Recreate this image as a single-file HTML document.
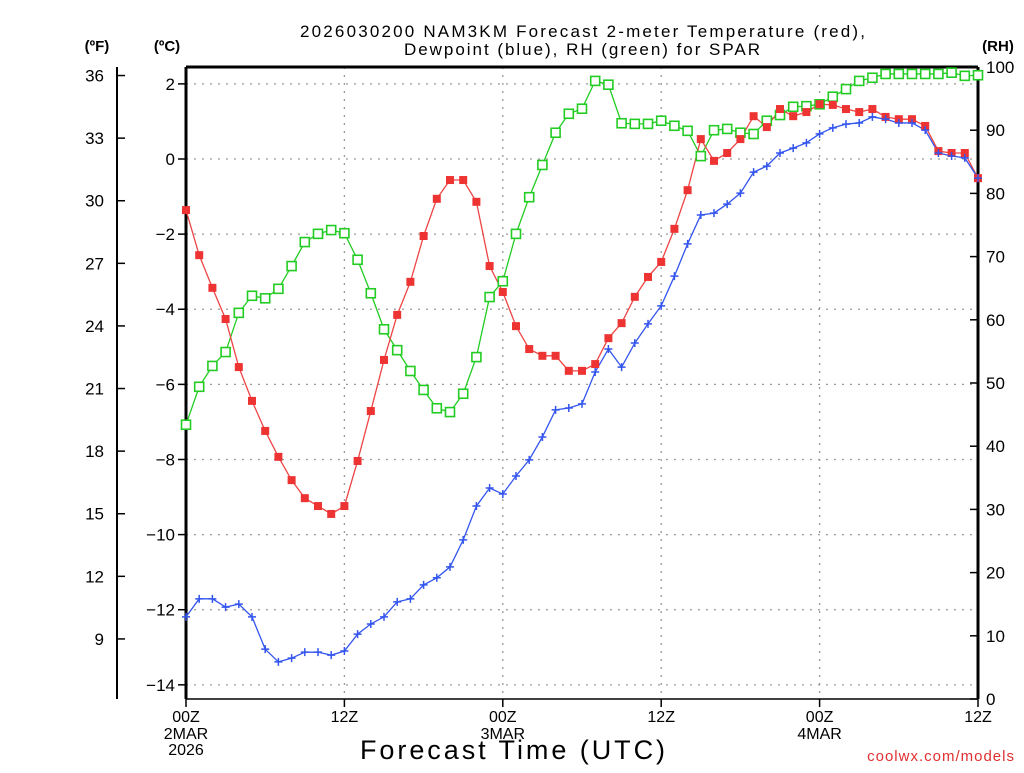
<!DOCTYPE html>
<html><head><meta charset="utf-8"><style>
body{margin:0;background:#fff;}
svg text{font-family:"Liberation Sans",sans-serif;fill:#000;}
</style></head><body>
<svg id="chart" width="1024" height="768" viewBox="0 0 1024 768" xmlns="http://www.w3.org/2000/svg">
<rect width="1024" height="768" fill="#fff"/>
<text x="300" y="37" font-size="17" textLength="565" lengthAdjust="spacing">2026030200 NAM3KM Forecast 2-meter Temperature (red),</text>
<text x="404" y="55" font-size="17" textLength="356" lengthAdjust="spacing">Dewpoint (blue), RH (green) for SPAR</text>
<text x="97" y="51" font-size="15" font-weight="bold" text-anchor="middle">(ºF)</text>
<text x="167" y="51" font-size="15" font-weight="bold" text-anchor="middle">(ºC)</text>
<text x="998" y="51" font-size="15" font-weight="bold" text-anchor="middle">(RH)</text>
<text x="360" y="759" font-size="27" textLength="305" lengthAdjust="spacing">Forecast Time (UTC)</text>
<text x="1015" y="761" font-size="15" text-anchor="end" style="fill:#e03030" letter-spacing="1">coolwx.com/models</text>
<g id="grid"></g><g id="axes"></g><g id="series"></g>
</svg>
<script>
const hours = Array.from({length:61},(_,i)=>i);
const tempC = [-1.36,-2.56,-3.43,-4.26,-5.54,-6.44,-7.24,-7.93,-8.55,-9.03,-9.24,-9.45,-9.24,-8.04,-6.71,-5.35,-4.15,-3.27,-2.05,-1.06,-0.56,-0.56,-1.14,-2.85,-3.54,-4.45,-5.06,-5.24,-5.24,-5.64,-5.64,-5.46,-4.77,-4.37,-3.67,-3.14,-2.74,-1.86,-0.83,0.53,-0.05,0.16,0.53,1.14,0.85,1.33,1.14,1.25,1.46,1.44,1.33,1.25,1.33,1.12,1.06,1.06,0.88,0.21,0.16,0.16,-0.51];
const dewC = [-12.19,-11.71,-11.71,-11.93,-11.85,-12.19,-13.05,-13.39,-13.29,-13.13,-13.13,-13.21,-13.10,-12.65,-12.38,-12.19,-11.79,-11.71,-11.34,-11.15,-10.86,-10.14,-9.24,-8.76,-8.92,-8.44,-8.01,-7.40,-6.68,-6.63,-6.52,-5.67,-5.06,-5.54,-4.90,-4.39,-3.91,-3.12,-2.26,-1.49,-1.44,-1.20,-0.91,-0.35,-0.19,0.16,0.29,0.43,0.67,0.83,0.93,0.96,1.12,1.06,0.96,0.96,0.77,0.16,0.08,0.03,-0.51];
const rhPct = [43.4,49.4,52.7,54.9,61.1,63.8,63.4,64.9,68.5,72.3,73.6,74.2,73.7,69.5,64.2,58.5,55.2,51.9,48.9,46.0,45.4,48.3,54.1,63.6,66.1,73.6,79.4,84.5,89.6,92.6,93.4,97.8,97.2,91.1,91.0,91.0,91.5,90.7,89.9,85.9,90.0,90.2,89.6,89.4,91.5,92.4,93.7,93.8,94.1,95.3,96.5,97.8,98.3,98.9,98.9,98.9,98.9,98.9,99.1,98.6,98.7];
const cTicks = [2,0,-2,-4,-6,-8,-10,-12,-14];
const fTicks = [36,33,30,27,24,21,18,15,12,9];
const rhTicks = [100,90,80,70,60,50,40,30,20,10,0];
const xTickHours = [0,12,24,36,48,60];
const xTickLabels = ["00Z","12Z","00Z","12Z","00Z","12Z"];
const xDateLabels = [["2MAR","2026"],[],["3MAR"],[],["4MAR"],[]];

const NS="http://www.w3.org/2000/svg";
const X0=186,X1=978,YT=67,YB=699;
const xS=h=>X0+(X1-X0)*h/60;
const yC=c=>159-37.56*c;
const yF=f=>yC((f-32)/1.8);
const yR=r=>YB-(YB-YT)*r/100;
function mk(tag,attrs,parent){const e=document.createElementNS(NS,tag);for(const k in attrs)e.setAttribute(k,attrs[k]);parent.appendChild(e);return e;}
const grid=document.getElementById('grid'),axes=document.getElementById('axes'),ser=document.getElementById('series');
cTicks.forEach(c=>{
  const l=mk('line',{x1:X0,x2:X1,y1:yC(c),y2:yC(c),stroke:'#999','stroke-dasharray':'2,6','stroke-width':1.3},grid);
  
  
  const t=mk('line',{x1:X0-8,x2:X0,y1:yC(c),y2:yC(c),stroke:'#000','stroke-width':1.5},axes);
  
  
  const tx=mk('text',{x:175,y:yC(c)+6,'font-size':17,'text-anchor':'end'},axes);
  tx.textContent=(c<0?'\u2212'+(-c):String(c));
  
  
});
xTickHours.forEach((h,i)=>{
  if(h>0&&h<60){const l=mk('line',{x1:xS(h),x2:xS(h),y1:YT,y2:YB,stroke:'#999','stroke-dasharray':'2,6','stroke-width':1.3},grid);
  
  }
  const t=mk('line',{x1:xS(h),x2:xS(h),y1:YB,y2:YB+8,stroke:'#000','stroke-width':1.5},axes);
  
  
  const tx=mk('text',{x:xS(h),y:722,'font-size':16,'text-anchor':'middle'},axes);
  tx.textContent=xTickLabels[i];
  
  
  xDateLabels[i].forEach((d,j)=>{const dt=mk('text',{x:xS(h),y:739+16*j,'font-size':16,'text-anchor':'middle'},axes);dt.textContent=d;
  
  });
});
fTicks.forEach(f=>{
  mk('line',{x1:117,x2:125,y1:yF(f),y2:yF(f),stroke:'#000','stroke-width':1.5},axes);
  const tx=mk('text',{x:104,y:yF(f)+6,'font-size':17,'text-anchor':'end'},axes);
  tx.textContent=f;
  
  
});
rhTicks.forEach(r=>{
  mk('line',{x1:X1-8,x2:X1,y1:yR(r),y2:yR(r),stroke:'#000','stroke-width':1.5},axes);
  const tx=mk('text',{x:986,y:yR(r)+6,'font-size':17,'text-anchor':'start'},axes);
  tx.textContent=r;
  
  
});
mk('line',{x1:117,x2:117,y1:YT,y2:YB,stroke:'#000','stroke-width':2},axes);
mk('line',{x1:X0,x2:X0,y1:YT,y2:YB,stroke:'#000','stroke-width':3},axes);
mk('line',{x1:X1,x2:X1,y1:YT,y2:YB,stroke:'#000','stroke-width':3},axes);
mk('line',{x1:X0,x2:X1,y1:YT,y2:YT,stroke:'#000','stroke-width':3},axes);
mk('line',{x1:X0,x2:X1,y1:YB,y2:YB,stroke:'#000','stroke-width':1.5},axes);

function line(vals,yf,color,name){
  const p=mk('polyline',{points:vals.map((v,i)=>xS(hours[i])+','+yf(v)).join(' '),fill:'none',stroke:color,'stroke-width':1.3},ser);
  
  
}
line(rhPct,yR,'#22cc22','rh');
line(tempC,yC,'#ee4444','temperature');
line(dewC,yC,'#3355ee','dewpoint');
rhPct.forEach((v,i)=>{const r=mk('rect',{x:xS(hours[i])-4.5,y:yR(v)-4.5,width:9,height:9,fill:'#fff',stroke:'#22cc22','stroke-width':1.6},ser);
  
  });
tempC.forEach((v,i)=>{const r=mk('rect',{x:xS(hours[i])-4,y:yC(v)-4,width:8,height:8,fill:'#ee3333'},ser);
  
  });
dewC.forEach((v,i)=>{const x=xS(hours[i]),y=yC(v);
  const g=mk('path',{d:`M${x-4},${y}H${x+4}M${x},${y-4}V${y+4}`,stroke:'#3355ee','stroke-width':1.5},ser);
  
  });
</script>
</body></html>
